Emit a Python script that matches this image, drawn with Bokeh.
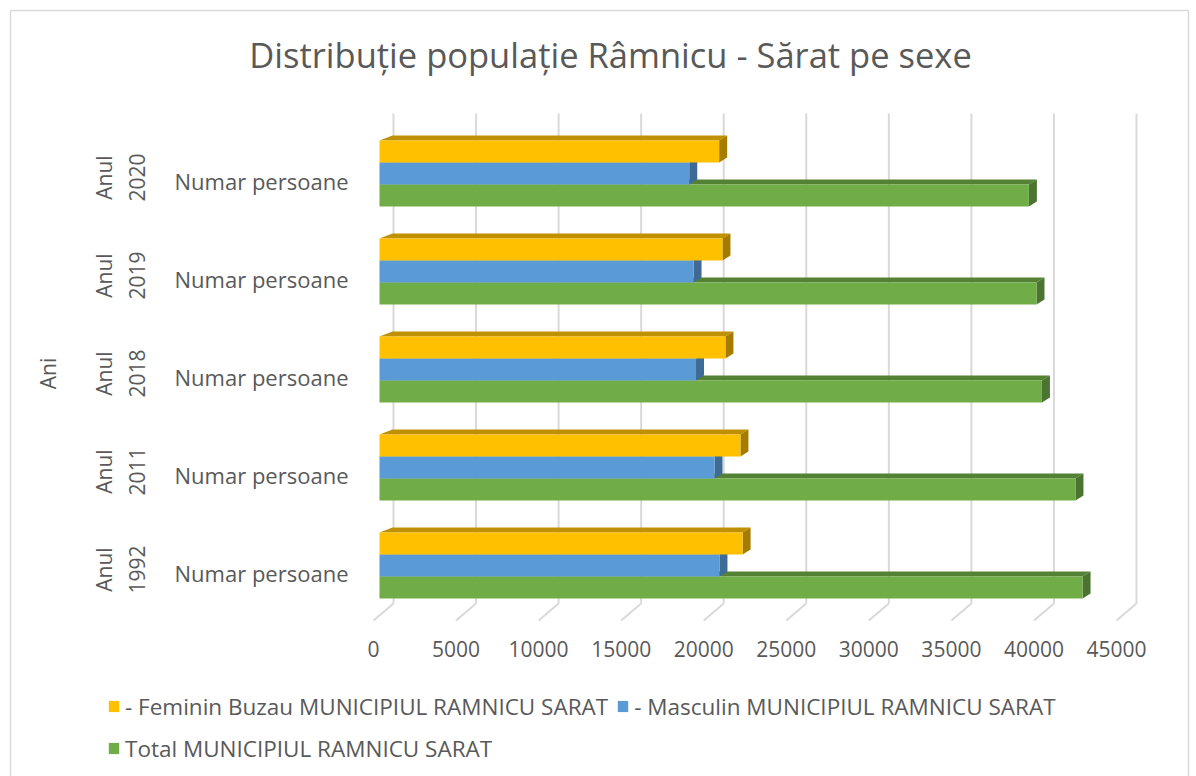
import math
from bokeh.plotting import figure
from bokeh.models import Range1d, Legend, LegendItem
from bokeh.core.properties import value
from bokeh.embed import file_html
from bokeh.resources import INLINE

# ---------------- data ----------------
years = ["1992", "2011", "2018", "2019", "2020"]
category_label = "Numar persoane"
feminin = [21990, 21860, 20950, 20770, 20570]
masculin = [20590, 20290, 19170, 19020, 18760]
total = [42580, 42150, 40120, 39790, 39330]
x_ticks = [0, 5000, 10000, 15000, 20000, 25000, 30000, 35000, 40000, 45000]
x_tick_labels = ["0", "5000", "10000", "15000", "20000", "25000", "30000", "35000", "40000", "45000"]
series_names = ["- Feminin Buzau MUNICIPIUL RAMNICU SARAT",
                "- Masculin MUNICIPIUL RAMNICU SARAT",
                "Total MUNICIPIUL RAMNICU SARAT"]
title_text = "Distribuție populație Râmnicu - Sărat pe sexe"
axis_title = "Ani"

# ---------------- layout constants (page pixels) ----------------
W, H = 1196, 776
X0_BACK = 393            # back-wall position of value 0
PX_X = 743 / 45000.0     # pixels per person
PX_Y = 98.0              # pixels per year group
G0_PAGE = 565            # page y of the first group centre


def px_x(n):
    return n / PX_X


def px_y(n):
    return n / PX_Y


def xd(px):
    return (px - X0_BACK) / PX_X


y_start = -(H - G0_PAGE) / PX_Y
y_end = y_start + H / PX_Y


def yd(py):
    return y_start + (H - py) / PX_Y


TEXT = "#595959"
FONT = "Open Sans"
GRID = "#D9D9D9"

p = figure(width=W, height=H, x_range=Range1d(xd(0), xd(W)), y_range=Range1d(y_start, y_end),
           output_backend="svg", toolbar_location=None, title=None,
           x_axis_location=None, y_axis_location=None,
           min_border_left=0, min_border_right=0, min_border_top=0, min_border_bottom=0)
p.grid.grid_line_color = None
p.outline_line_color = None
p.background_fill_color = "white"
p.border_fill_color = "white"

# chart-area border
p.segment(x0=[xd(10), xd(10), xd(1188)], y0=[yd(10), yd(10), yd(10)],
          x1=[xd(1188), xd(10), xd(1188)], y1=[yd(10), yd(H), yd(H)],
          line_color=GRID, line_width=1.5)

# title
p.text(x=[xd(610)], y=[yd(54)], text=[title_text], text_font=value(FONT),
       text_font_size=value("34.5px"), text_color=TEXT, text_align="center", text_baseline="middle")

# ---------------- walls / grid ----------------
n = len(x_ticks)
p.segment(x0=x_ticks, y0=[yd(113)] * n, x1=x_ticks, y1=[yd(603)] * n,
          line_color=GRID, line_width=2)
p.segment(x0=x_ticks, y0=[yd(603)] * n, x1=[t - px_x(20) for t in x_ticks], y1=[yd(620)] * n,
          line_color=GRID, line_width=2)

# x tick labels (front edge of the floor)
p.text(x=[t - px_x(20) for t in x_ticks], y=[yd(648)] * n, text=x_tick_labels,
       text_font=value(FONT), text_font_size=value("21px"), text_color=TEXT,
       text_align="center", text_baseline="middle")

# ---------------- 3D bars ----------------
FRONT_SHIFT = px_x(14)
BAR_H = px_y(22)
DX = px_x(8)
DX_LEFT = px_x(13)
DY = px_y(5)

series = [
    # values, offset (px), front, top, side
    (total, -22, "#70AD47", "#548235", "#4B7430"),
    (masculin, 0, "#5B9BD5", "#4A7DB0", "#3E6B95"),
    (feminin, 22, "#FFC000", "#BF9000", "#A67C00"),
]
front_renderers = []
for vals, off, c_front, c_top, c_side in series:
    yc = [i + px_y(off) for i in range(len(vals))]
    x0 = -FRONT_SHIFT
    x1 = [v - FRONT_SHIFT for v in vals]
    yt = [y + BAR_H / 2 for y in yc]
    yb = [y - BAR_H / 2 for y in yc]
    top_xs = [[x0, x0 + DX_LEFT, a + DX, a] for a in x1]
    top_ys = [[t, t + DY, t + DY, t] for t in yt]
    side_xs = [[a, a + DX, a + DX, a] for a in x1]
    side_ys = [[t, t + DY, b + DY, b] for t, b in zip(yt, yb)]
    p.patches(top_xs, top_ys, fill_color=c_top, line_color=None)
    p.patches(side_xs, side_ys, fill_color=c_side, line_color=None)
    r = p.hbar(y=yc, left=x0, right=x1, height=BAR_H, fill_color=c_front, line_color=None)
    front_renderers.append(r)

# ---------------- category labels ----------------
groups = list(range(len(years)))
p.text(x=[xd(348)] * len(groups), y=[g - px_y(7) for g in groups], text=[category_label] * len(groups),
       text_font=value(FONT), text_font_size=value("22px"), text_color=TEXT,
       text_align="right", text_baseline="middle")
p.text(x=[xd(120)] * len(groups), y=[g - px_y(4) for g in groups], text=["Anul\n" + y for y in years],
       angle=math.pi / 2, text_font=value(FONT), text_font_size=value("21px"), text_color=TEXT,
       text_align="center", text_baseline="middle", text_line_height=1.15)
p.text(x=[xd(47)], y=[yd(373)], text=[axis_title], angle=math.pi / 2,
       text_font=value(FONT), text_font_size=value("21px"), text_color=TEXT,
       text_align="center", text_baseline="middle")

# ---------------- legend ----------------
order = [2, 1, 0]
legend = Legend(items=[LegendItem(label=series_names[k], renderers=[front_renderers[j]])
                       for k, j in enumerate(order)],
                location=(107, 11), orientation="horizontal", ncols=2)
legend.label_text_font = FONT
legend.label_text_font_size = "22.5px"
legend.label_text_color = TEXT
legend.glyph_width = 13
legend.glyph_height = 14
legend.label_standoff = 5
legend.label_height = 34
legend.spacing = 8
legend.padding = 0
legend.margin = 0
legend.border_line_color = None
legend.background_fill_alpha = 0
p.add_layout(legend, "center")

open("out.html", "w").write(file_html(p, INLINE))
